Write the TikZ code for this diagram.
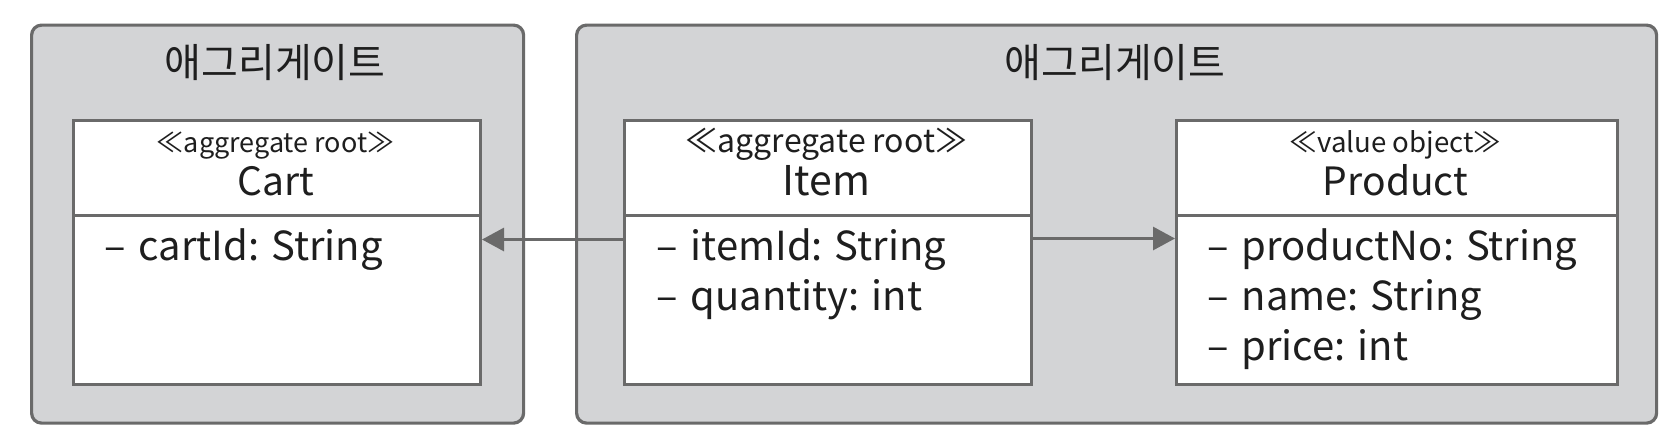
\documentclass[tikz,border=0pt]{standalone}
\usepackage{fontspec}
\setmainfont{Noto Sans CJK KR}
\usetikzlibrary{arrows.meta}
\definecolor{aggfill}{HTML}{D3D4D6}
\definecolor{lineg}{HTML}{6A6A6A}
\definecolor{txt}{HTML}{1E1E1E}
\tikzset{
  aggbox/.style={draw=lineg, line width=1.6pt, fill=aggfill, rounded corners=5pt, inner sep=0pt, anchor=north west},
  classbox/.style={draw=lineg, line width=1.5pt, fill=white, inner sep=0pt, anchor=north west, minimum height=132pt},
  divider/.style={draw=lineg, line width=1.5pt},
  aggtitle/.style={text=txt, inner sep=0pt, anchor=center, font=\fontsize{20pt}{24pt}\selectfont},
  stereo/.style={text=txt, inner sep=0pt, anchor=base, font=\fontsize{13.5pt}{16pt}\selectfont},
  cname/.style={text=txt, inner sep=0pt, anchor=base, font=\fontsize{19.5pt}{23pt}\selectfont},
  attr/.style={text=txt, inner sep=0pt, anchor=base west, font=\fontsize{20pt}{24pt}\selectfont},
  arr/.style={draw=lineg, line width=1.5pt, -{Triangle[length=11pt,width=11.5pt]}}
}
\newcommand{\attrdash}{–\hspace{0.32em}}
\begin{document}
\begin{tikzpicture}[x=0.5pt,y=-0.5pt]
\useasboundingbox (0,0) rectangle (1676,446);
% aggregates
\node[aggbox, minimum width=246pt, minimum height=199pt] (agg1) at (30,23.5) {};
\node[aggbox, minimum width=540pt, minimum height=199pt] (agg2) at (575,23.5) {};
\node[aggtitle] (t1) at (275,63) {애그리게이트};
\node[aggtitle] (t2) at (1115,63) {애그리게이트};
% class boxes
\node[classbox, minimum width=203.5pt] (cart) at (72,119) {};
\node[classbox, minimum width=203.5pt] (item) at (623,119) {};
\node[classbox, minimum width=220.5pt] (product) at (1175,119) {};
\draw[divider] (72,215) -- (479,215);
\draw[divider] (623,215) -- (1030,215);
\draw[divider] (1175,215) -- (1616,215);
% Cart
\node[stereo] (cartst) at (275.5,152) {≪aggregate root≫};
\node[cname] (cartnm) at (275.5,195) {Cart};
\node[attr] (carta1) at (104,260) {\attrdash cartId: String};
% Item
\node[stereo, font=\fontsize{16pt}{18pt}\selectfont] (itemst) at (826.5,152) {≪aggregate root≫};
\node[cname, font=\fontsize{20.5pt}{24pt}\selectfont] (itemnm) at (826.5,195) {Item};
\node[attr] (itema1) at (656,260) {\attrdash itemId: String};
\node[attr] (itema2) at (656,310) {\attrdash quantity: int};
% Product
\node[stereo, font=\fontsize{13.8pt}{16pt}\selectfont] (prodst) at (1395.5,152) {≪value object≫};
\node[cname] (prodnm) at (1395.5,195) {Product};
\node[attr] (proda1) at (1207,260) {\attrdash productNo: String};
\node[attr] (proda2) at (1207,310) {\attrdash name: String};
\node[attr] (proda3) at (1207,360) {\attrdash price: int};
% connectors
\draw[arr] ([yshift=6.5pt]item.west) -- ([yshift=6.5pt]cart.east);
\draw[arr] ([yshift=7pt]item.east) -- ([yshift=7pt]product.west);
\end{tikzpicture}
\end{document}
